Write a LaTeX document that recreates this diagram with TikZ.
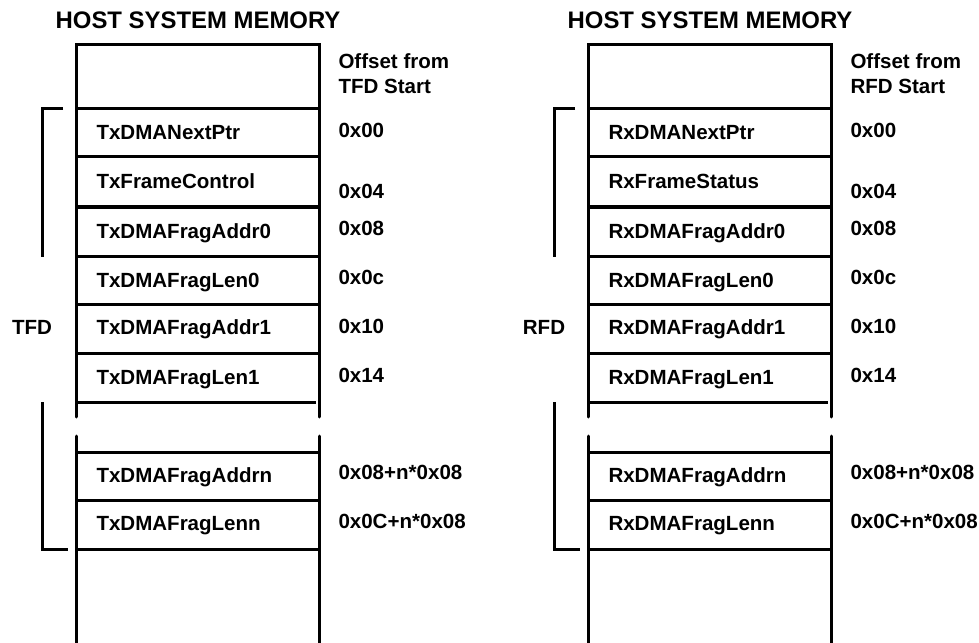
\documentclass[tikz,border=0pt]{standalone}
\usepackage{fontspec}
\setmainfont{Liberation Sans}

\begin{document}
\begin{tikzpicture}[x=0.025cm, y=-0.025cm, line width=0.075cm,
  field/.style={anchor=base west, inner sep=0pt, font=\fontsize{14.6}{17}\selectfont\bfseries},
  title/.style={anchor=base, inner sep=0pt, font=\fontsize{17}{20}\selectfont\bfseries}]

\useasboundingbox (0,0) rectangle (979,643);

% One memory map per descriptor: TFD on the left, RFD on the right
\foreach \dx/\p/\d/\ctl in {0/Tx/TFD/TxFrameControl, 512/Rx/RFD/RxFrameStatus} {
\begin{scope}[xshift=\dx*0.025cm]

% Memory column, broken between the two halves
\draw[line cap=round] (76,417) -- (76,45) -- (319,45) -- (319,417);
\draw[line cap=round] (76,436) -- (76,643);
\draw[line cap=round] (319,436) -- (319,643);
\foreach \y in {109,157,207,256,304,353,452,500,549}
  \draw (76,\y) -- (319,\y);
\draw (76,402) -- (316,402);

% Brackets
\draw (63,109) -- (42,109) -- (42,257);
\draw (42,402) -- (42,549) -- (68,549);

% Labels
\node[title] (\p-title) at (198,29) {HOST SYSTEM MEMORY};
\node[field] (\p-offset) at (337,69) {Offset from};
\node[field] (\p-start) at (337,94) {\d{} Start};
\node[field, anchor=base] (\p-desc) at (32,334) {\d};

% Descriptor fields
\node[field] (\p-ctl) at (95,189) {\ctl};
\foreach \f/\y in {DMANextPtr/140, DMAFragAddr0/238, DMAFragLen0/287,
    DMAFragAddr1/334, DMAFragLen1/384, DMAFragAddrn/482, DMAFragLenn/530}
  \node[field] (\p\f) at (95,\y) {\p\f};

% Offsets
\foreach \o/\y in {0x00/138, 0x04/199, 0x08/235, 0x0c/284, 0x10/333,
    0x14/382, 0x08+n*0x08/479, 0x0C+n*0x08/528}
  \node[field] (\p-o\y) at (337,\y) {\o};

\end{scope}
}

\end{tikzpicture}
\end{document}
